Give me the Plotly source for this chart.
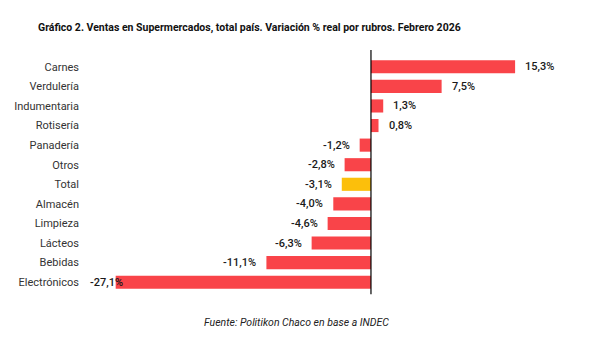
import plotly.graph_objects as go

categories = ["Carnes", "Verdulería", "Indumentaria", "Rotisería", "Panadería", "Otros",
              "Total", "Almacén", "Limpieza", "Lácteos", "Bebidas", "Electrónicos"]
values = [15.3, 7.5, 1.3, 0.8, -1.2, -2.8, -3.1, -4.0, -4.6, -6.3, -11.1, -27.1]
labels = ["15,3%", "7,5%", "1,3%", "0,8%", "-1,2%", "-2,8%", "-3,1%", "-4,0%", "-4,6%",
          "-6,3%", "-11,1%", "-27,1%"]

RED = "#F94449"
YELLOW = "#FCBF0B"
colors = [YELLOW if c == "Total" else RED for c in categories]

FONT = "Roboto, Arial, sans-serif"

fig = go.Figure()
fig.add_trace(go.Bar(
    y=categories, x=values, orientation="h",
    marker=dict(color=colors, line=dict(width=0)),
    hoverinfo="skip",
))

for c, v, t in zip(categories, values, labels):
    if v >= 0:
        fig.add_annotation(x=v, y=c, text=t, showarrow=False, xanchor="left", xshift=8,
                           font=dict(family=FONT, size=11, color="#1a1a1a", weight=500))
    else:
        shift = 9 if v < -20 else -8
        fig.add_annotation(x=v, y=c, text=t, showarrow=False, xanchor="right", xshift=shift,
                           font=dict(family=FONT, size=11, color="#1a1a1a", weight=500))

fig.add_shape(type="line", xref="x", yref="paper", x0=0, x1=0, y0=-0.01, y1=1.03,
              line=dict(color="black", width=1.2))

fig.add_annotation(text="<b>Gráfico 2. Ventas en Supermercados, total país. Variación % real por rubros. Febrero 2026</b>",
                   xref="paper", yref="paper", x=-(88 - 36) / (613 - 88 - 33), y=1,
                   yshift=30, xanchor="left", yanchor="middle", showarrow=False,
                   font=dict(family=FONT, size=10.5, color="#111111"))
fig.add_annotation(text="<i>Fuente: Politikon Chaco en base a INDEC</i>",
                   xref="paper", yref="paper", x=(296 - 88) / (613 - 88 - 33), y=0, yshift=-30,
                   xanchor="center", yanchor="middle", showarrow=False,
                   font=dict(family=FONT, size=10.5, color="#222222"))

fig.update_layout(
    width=613, height=353,
    margin=dict(l=88, r=33, t=57, b=61),
    paper_bgcolor="white", plot_bgcolor="white",
    showlegend=False, bargap=0.33,
    xaxis=dict(range=[-30.04, 22.19], visible=False, fixedrange=True),
    yaxis=dict(autorange="reversed", showgrid=False, showline=False, ticks="",
               ticklen=0, tickfont=dict(family=FONT, size=11, color="#333333"),
               fixedrange=True, ticklabelstandoff=8),
    font=dict(family=FONT),
)

fig.write_html("out.html", config={"displayModeBar": False})
